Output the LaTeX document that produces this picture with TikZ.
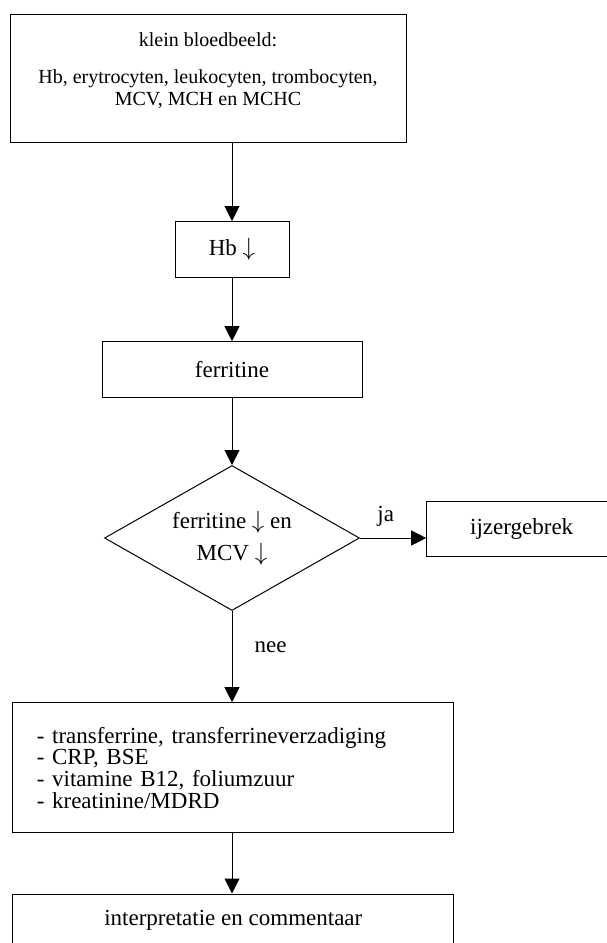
\documentclass[tikz,border=0pt]{standalone}
\usepackage{fontspec}
\setmainfont{Liberation Serif}
\usetikzlibrary{shapes.geometric,arrows.meta}

\begin{document}
\begin{tikzpicture}[x=1pt,y=-1pt,
    box/.style ={rectangle, draw, line width=1pt, inner sep=0pt, font=\fontsize{23}{28}\selectfont},
    decision/.style ={diamond, draw, line width=1pt, inner sep=0pt, aspect=1.76, align=center, font=\fontsize{23}{32}\selectfont},
    flow/.style ={line width=1pt, -{Triangle[width=15pt,length=15pt]}},
    tag/.style ={font=\fontsize{23}{28}\selectfont}]
   \useasboundingbox (0,0) rectangle (606,943);
   \node[box, minimum width=396pt, minimum height=128pt] (cbc) at (208,78) {};
   \node[align=center, font=\fontsize{20}{22}\selectfont] (cbctext) at (208,71) {klein bloedbeeld:\\[15pt] Hb, erytrocyten, leukocyten, trombocyten,\\ MCV, MCH en MCHC};
   \node[box, minimum width=114pt, minimum height=56pt] (hb) at (232,249.5) {Hb $\downarrow$};
   \node[box, minimum width=260pt, minimum height=56pt] (ferritin) at (232,369.7) {ferritine};
   \node[decision, minimum width=255pt, minimum height=145pt] (check) at (232,538) {ferritine $\downarrow$ en\\ MCV $\downarrow$};
   \node[box, minimum width=190pt, minimum height=55pt] (iron) at (521.7,529.2) {ijzergebrek};
   \node[box, text width=393pt, inner xsep=24pt, minimum height=130pt, align=left, font=\fontsize{23}{21.7}\selectfont] (tests) at (233.3,767.7) {- transferrine, transferrineverzadiging\\ - CRP, BSE\\ - vitamine B12, foliumzuur\\ - kreatinine/MDRD};
   \node[box, minimum width=441pt, minimum height=52pt] (advice) at (233.3,920) {interpretatie en commentaar};
   \node[tag] (yes) at (385.7,516.7) {ja};
   \node[tag] (no) at (270.7,646.7) {nee};

   \draw[flow] (hb.north |- cbc.south) to (hb.north);
   \draw[flow] (hb) to (ferritin);
   \draw[flow] (ferritin) to (check);
   \draw[flow] (check.east) to (check.east -| iron.west);
   \draw[flow] (check.south) to (check.south |- tests.north);
   \draw[flow] (check.south |- tests.south) to (check.south |- advice.north);
 \end{tikzpicture}
\end{document}
